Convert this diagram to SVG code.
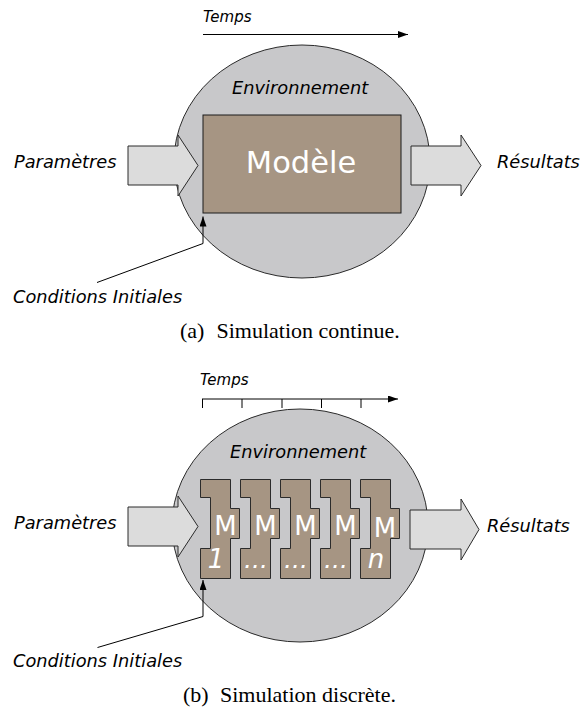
<svg xmlns="http://www.w3.org/2000/svg" width="581" height="710" viewBox="0 0 581 710">
<style>
.lbl{font-family:"DejaVu Sans",sans-serif;font-style:italic;font-size:17.8px;fill:#000}
.tm{font-family:"DejaVu Sans",sans-serif;font-style:italic;font-size:15px;fill:#000}
.env{fill:#c8c8ca;stroke:#2b2b2b;stroke-width:1}
.big{fill:#dcdcdc;stroke:#2b2b2b;stroke-width:1}
.mod{fill:#a69583;stroke:#1a1a1a;stroke-width:1}
.blk{fill:#a69583;stroke:#2b2b2b;stroke-width:1}
.wt{font-family:"DejaVu Sans",sans-serif;fill:#fff;text-anchor:middle}
.cap{font-family:"Liberation Serif","Times New Roman",serif;font-size:22px;fill:#000}
.ln{fill:none;stroke:#000;stroke-width:1}
</style>
<defs>
<marker id="ah" markerUnits="userSpaceOnUse" markerWidth="11" markerHeight="8" refX="10" refY="3.5" orient="auto">
<path d="M0,0 L10,3.5 L0,7 Z" fill="#000"/>
</marker>
</defs>

<!-- (a) continuous simulation -->
<g id="env-a"><ellipse class="env" cx="302" cy="161.5" rx="128" ry="116.5"/>
<text class="lbl" x="232" y="94">Environnement</text></g>
<g id="model-a"><rect class="mod" x="203" y="115" width="198" height="98"/>
<text class="wt" x="301" y="172.5" font-size="30.5">Modèle</text></g>
<g id="param-a"><path class="big" d="M128,146 H178 V135 L198,165.5 L178,196 V185 H128 Z"/>
<text class="lbl" x="14" y="168">Paramètres</text></g>
<g id="result-a"><path class="big" d="M411,146 H461 V135 L481,165.5 L461,196 V185 H411 Z"/>
<text class="lbl" x="497" y="168">Résultats</text></g>
<g id="time-a"><text class="tm" x="203" y="22">Temps</text></g>
<g id="ci-a"><text class="lbl" x="13" y="302.5">Conditions Initiales</text></g>
<g id="caption-a"><text class="cap" x="180" y="338">(a)</text><text class="cap" x="216.5" y="338">Simulation continue.</text></g>

<!-- (b) discrete simulation -->
<g id="env-b"><ellipse class="env" cx="300" cy="525.5" rx="128" ry="116.5"/>
<text class="lbl" x="230" y="458">Environnement</text></g>
<g id="param-b"><path class="big" d="M128,507 H178 V496 L198,526.5 L178,557 V546 H128 Z"/>
<text class="lbl" x="14" y="529">Paramètres</text></g>
<g id="result-b"><path class="big" d="M410,510 H461 V499 L479,529.5 L461,560 V549 H410 Z"/>
<text class="lbl" x="487" y="532">Résultats</text></g>
<g id="m1"><path class="blk" d="M200.5,479.5 H230.5 V508.5 H239.5 V538.5 H230.5 V578.5 H200.5 V548.5 H210.5 V497.5 H200.5 Z"/>
<text class="wt" x="225.5" y="535" font-size="26">M</text><text class="wt" x="216" y="568" font-size="26" font-style="italic">1</text></g>
<g id="m2"><path class="blk" d="M240.5,479.5 H270.5 V508.5 H279.5 V538.5 H270.5 V578.5 H240.5 V548.5 H250.5 V497.5 H240.5 Z"/>
<text class="wt" x="265.5" y="535" font-size="26">M</text><text class="wt" x="256" y="568" font-size="25" font-style="italic">...</text></g>
<g id="m3"><path class="blk" d="M280.5,479.5 H310.5 V508.5 H319.5 V538.5 H310.5 V578.5 H280.5 V548.5 H290.5 V497.5 H280.5 Z"/>
<text class="wt" x="305.5" y="535" font-size="26">M</text><text class="wt" x="296" y="568" font-size="25" font-style="italic">...</text></g>
<g id="m4"><path class="blk" d="M320.5,479.5 H350.5 V508.5 H359.5 V538.5 H350.5 V578.5 H320.5 V548.5 H330.5 V497.5 H320.5 Z"/>
<text class="wt" x="345.5" y="535" font-size="26">M</text><text class="wt" x="336" y="568" font-size="25" font-style="italic">...</text></g>
<g id="m5"><path class="blk" d="M360.5,479.5 H390.5 V508.5 H399.5 V538.5 H390.5 V578.5 H360.5 V548.5 H370.5 V497.5 H360.5 Z"/>
<text class="wt" x="385" y="537" font-size="26">M</text><text class="wt" x="376" y="568" font-size="26" font-style="italic">n</text></g>
<g id="time-b"><text class="tm" x="200" y="385">Temps</text></g>
<g id="ci-b"><text class="lbl" x="13" y="666.5">Conditions Initiales</text></g>
<g id="caption-b"><text class="cap" x="183" y="702">(b)</text><text class="cap" x="220" y="702">Simulation discrète.</text></g>

<g id="connectors">
<line class="ln" x1="203" y1="34.5" x2="408" y2="34.5" marker-end="url(#ah)"/>
<polyline class="ln" points="97,282.5 203,243.5 203,216.5" marker-end="url(#ah)"/>
<line class="ln" x1="202" y1="399" x2="398" y2="399" marker-end="url(#ah)"/>
<path class="ln" d="M202.5,399 V408 M242,399 V408 M282,399 V408 M321.5,399 V408 M361,399 V408"/>
<polyline class="ln" points="97.5,647.5 203,616.5 203,580" marker-end="url(#ah)"/>
</g>
</svg>
